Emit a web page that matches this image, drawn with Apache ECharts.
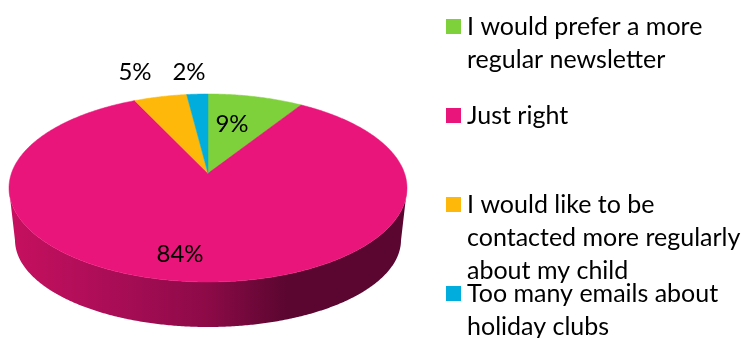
<!DOCTYPE html>
<html>
<head>
<meta charset="utf-8">
<style>html,body{margin:0;padding:0;background:#fff}#chart{width:742px;height:338px}</style>
<script src="https://cdn.jsdelivr.net/npm/echarts@6/dist/echarts.min.js"></script>
</head>
<body>
<div id="chart"></div>
<script>
// Survey answers, clockwise from twelve o'clock
const answers = [
  'I would prefer a more\nregular newsletter',
  'Just right',
  'I would like to be\ncontacted more regularly\nabout my child',
  'Too many emails about\nholiday clubs'
];
const shares = [9, 84, 5, 2];
const colors = ['#7FD13B', '#EA157A', '#FEB80A', '#00ADDC'];

// Pie drawn in perspective: the rim is an ellipse and the hub sits above its centre
const TOP = { cx: 208, cy: 188, rx: 199, ry: 94 };
const BASE = { cx: 208, cy: 240, rx: 193, ry: 87 };
const HUB_SHIFT = -0.156;
const VALUE_FONT = '400 24px Lato, sans-serif';
const KEY_FONT = '400 25px Lato, sans-serif';
const total = shares.reduce((a, b) => a + b, 0);

const labelAnchor = [[232, 124], [180, 254], [135, 72], [189, 72]];
const legendRow = [26.5, 115.5, 204.5, 293.5];

// Project an angle on the unit circle (clockwise from top) on to a rim ellipse
function rim(e, theta) {
  const u = Math.sin(theta), v = -Math.cos(theta), k = HUB_SHIFT;
  const d = 1 + k * v;
  return [e.cx + e.rx * u * Math.sqrt(1 - k * k) / d, e.cy + e.ry * (v + k) / d];
}
function isFront(theta) { return -Math.cos(theta) + HUB_SHIFT >= 0; }

function sideGradient() {
  return new echarts.graphic.LinearGradient(0, 0, 1, 0, [
    { offset: 0, color: '#C6105F' },
    { offset: 0.25, color: '#AB0D57' },
    { offset: 0.5, color: '#8C0A47' },
    { offset: 0.7, color: '#5A0630' },
    { offset: 1, color: '#5A0630' }
  ]);
}

function renderSlice(params, api) {
  const i = params.dataIndex;
  const before = shares.slice(0, i).reduce((a, b) => a + b, 0);
  const a0 = before / total * Math.PI * 2;
  const a1 = (before + api.value(0)) / total * Math.PI * 2;
  const steps = Math.max(8, Math.round((a1 - a0) * 120));
  const top = [], upper = [], lower = [];
  for (let s = 0; s <= steps; s++) {
    const t = a0 + (a1 - a0) * s / steps;
    top.push(rim(TOP, t));
    if (isFront(t)) { upper.push(rim(TOP, t)); lower.push(rim(BASE, t)); }
  }
  const hub = [TOP.cx, TOP.cy + TOP.ry * HUB_SHIFT];
  const children = [];
  if (upper.length > 1) {
    children.push({
      type: 'polygon',
      shape: { points: upper.concat(lower.reverse()) },
      style: { fill: sideGradient() }
    });
  }
  children.push({
    type: 'polygon',
    shape: { points: [hub].concat(top) },
    style: { fill: colors[i], stroke: colors[i], lineWidth: 0.5 }
  });
  children.push({
    type: 'text', z2: 10,
    style: {
      text: api.value(0) + '%', x: labelAnchor[i][0], y: labelAnchor[i][1],
      align: 'center', verticalAlign: 'middle', font: VALUE_FONT, fill: '#000'
    }
  });
  return { type: 'group', children };
}

function renderKey(params) {
  const i = params.dataIndex;
  return {
    type: 'group',
    children: [
      { type: 'rect', shape: { x: 446, y: legendRow[i] - 7.5, width: 15, height: 15 }, style: { fill: colors[i] } },
      {
        type: 'text',
        style: {
          text: answers[i], x: 467, y: legendRow[i] - 16,
          align: 'left', verticalAlign: 'top', font: KEY_FONT, lineHeight: 33, fill: '#000'
        }
      }
    ]
  };
}

const chart = echarts.init(document.getElementById('chart'), null, { renderer: 'canvas' });
chart.setOption({
  animation: false,
  series: [
    { type: 'custom', coordinateSystem: 'none', renderItem: renderSlice, data: shares.map(v => [v]), silent: true },
    { type: 'custom', coordinateSystem: 'none', renderItem: renderKey, data: shares.map(v => [v]), silent: true }
  ]
});
</script>
</body>
</html>
